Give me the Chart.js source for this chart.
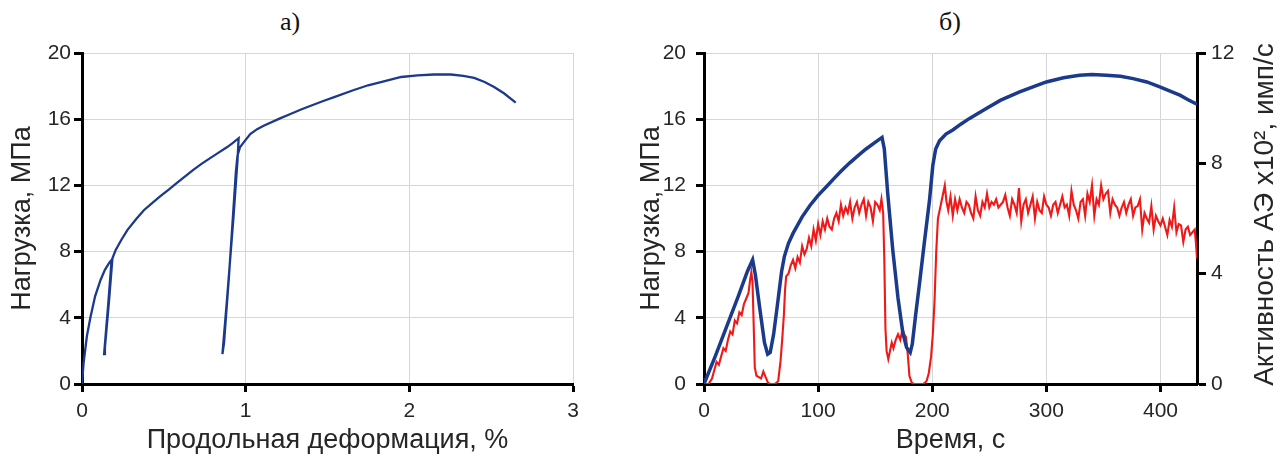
<!DOCTYPE html>
<html>
<head>
<meta charset="utf-8">
<script src="https://cdn.jsdelivr.net/npm/chart.js@4.4.1/dist/chart.umd.min.js"></script>
<style>
  html, body { margin: 0; padding: 0; background: #fff; }
  body { width: 1286px; height: 460px; position: relative; overflow: hidden; }
  .box { position: absolute; top: 0; height: 460px; }
  #boxA { left: 0; width: 600px; }
  #boxB { left: 620px; width: 666px; }
  .panel { position: absolute; top: 7px; font-family: "Liberation Serif", serif; font-size: 26px; color: #111; transform: translateX(-50%); }
</style>
</head>
<body>
<div class="panel" style="left:290px">а)</div>
<div class="panel" style="left:950px">б)</div>
<div class="box" id="boxA"><canvas id="chartA"></canvas></div>
<div class="box" id="boxB"><canvas id="chartB"></canvas></div>
<script>
// а) load vs longitudinal strain
const strainPct = [0, 0.01, 0.03, 0.053, 0.08, 0.114, 0.14, 0.165, 0.181, 0.16,
  0.135, 0.14, 0.165, 0.186, 0.206, 0.24, 0.277, 0.33, 0.378, 0.43,
  0.479, 0.53, 0.58, 0.63, 0.682, 0.73, 0.783, 0.83, 0.885, 0.92,
  0.957, 0.95, 0.925, 0.885, 0.858, 0.868, 0.898, 0.93, 0.94, 0.95,
  0.965, 0.988, 1.028, 1.07, 1.11, 1.21, 1.27, 1.342, 1.474, 1.545,
  1.657, 1.748, 1.85, 1.95, 2.05, 2.15, 2.254, 2.33, 2.396, 2.46,
  2.518, 2.58, 2.65];
const strainLoad = [0, 1.3, 2.9, 4.1, 5.3, 6.3, 6.9, 7.3, 7.5, 4.8,
  1.8, 2.2, 5.0, 7.6, 8.1, 8.7, 9.3, 9.95, 10.5, 10.95,
  11.35, 11.75, 12.15, 12.55, 12.95, 13.3, 13.65, 13.95, 14.3, 14.55,
  14.85, 13.5, 10.0, 5.0, 1.8, 2.5, 6.5, 11.3, 12.8, 13.8,
  14.3, 14.6, 15.1, 15.4, 15.6, 16.05, 16.3, 16.6, 17.1, 17.35,
  17.75, 18.05, 18.3, 18.55, 18.65, 18.7, 18.7, 18.62, 18.5, 18.25,
  17.95, 17.55, 17.0];

// б) load vs time
const timeSec = [0, 10, 20, 30, 38, 42.6, 45, 49, 53, 55.8,
  58, 61, 64, 66, 68, 70.4, 74, 78, 86, 93,
  100, 107, 113, 120, 127.5, 135, 142, 149, 153, 156,
  158, 161, 165.4, 170, 174.2, 177.5, 180.7, 182.5, 185.5, 188.9,
  193, 197.6, 200.5, 203, 206.4, 212, 218, 225, 232.7, 240,
  247.4, 260, 276.6, 290, 300, 315, 329, 340, 352.6, 365,
  376, 388, 399.4, 410, 417, 425, 432];
const timeLoad = [0, 1.7, 3.5, 5.3, 6.8, 7.5, 6.6, 4.5, 2.5, 1.8,
  1.9, 3.0, 4.6, 5.7, 6.8, 7.7, 8.5, 9.1, 10.1, 10.8,
  11.4, 11.9, 12.35, 12.85, 13.35, 13.8, 14.2, 14.55, 14.75, 14.9,
  14.2, 11.5, 8.1, 5.2, 3.1, 2.2, 1.9, 2.4, 4.2, 6.1,
  8.5, 11.1, 13.2, 14.2, 14.7, 15.1, 15.35, 15.7, 16.05, 16.35,
  16.65, 17.15, 17.65, 18.0, 18.25, 18.5, 18.65, 18.7, 18.65, 18.6,
  18.45, 18.25, 17.95, 17.65, 17.45, 17.15, 16.9];
const timeTicks = [0, 100, 200, 300, 400];

// б) acoustic emission activity (x10^2 imp/s) vs time
const aeTime = [0, 4, 7, 9, 11, 13, 15, 17, 19, 21,
  23, 25, 27, 29, 31, 33, 35, 37, 39, 40.5,
  41.5, 42.5, 43.5, 44.5, 46, 48, 50, 52, 54, 56,
  58, 62, 65, 67, 68.5, 70, 71, 72,
  74, 76, 78, 80, 82, 84, 86, 88, 90, 92,
  94, 96, 98, 100, 102, 104, 106, 108, 110, 112,
  114, 116, 118, 120, 122, 124, 126, 128, 130, 132,
  134, 136, 138, 140, 142, 144, 146, 148, 150, 152,
  154, 155.5, 157,
  158, 159, 160, 161.5, 163, 164.5, 166, 168, 170, 172,
  174, 175.5, 177, 178.5, 180, 182, 184, 192, 195, 197,
  199, 200.5, 202, 203.5, 205, 207, 209, 211, 212.5,
  214, 216, 218, 220, 222, 224, 226, 228, 230, 232,
  234, 236, 238, 240, 242, 244, 246, 248, 250, 252,
  254, 256, 258, 260, 262, 264, 266, 268, 270, 272,
  274, 276, 278, 280, 282, 284, 286, 288, 290, 292,
  294, 296, 298, 300, 302, 304, 306, 308, 310, 312,
  314, 316, 318, 320, 322, 324, 326, 328, 330, 332,
  334, 336, 338, 340, 342, 344, 346, 348, 350, 352,
  354, 356, 358, 360, 362, 364, 366, 368, 370, 372,
  374, 376, 378, 380, 382, 384, 386, 388, 390, 392,
  394, 396, 398, 400, 402, 404, 406, 408, 410, 412,
  414, 416, 418, 420, 422, 424, 426, 428, 430, 431,
  432];
const aeRate = [0, 0, 0.2, 0.5, 0.8, 0.7, 1.0, 1.3, 1.2, 1.6,
  1.9, 1.8, 2.3, 2.2, 2.6, 2.5, 2.9, 3.1, 3.3, 3.8,
  4.05, 3.7, 2.2, 0.6, 0.3, 0.25, 0.2, 0.45, 0.25, 0.05,
  0, 0, 0.1, 0.8, 1.6, 2.5, 3.4, 3.9,
  4.0, 4.3, 4.5, 4.2, 4.6, 4.4, 5.0, 4.7, 4.9, 5.3,
  5.0, 5.6, 5.2, 5.8, 5.4, 5.9, 5.6, 6.0, 5.7, 5.6,
  6.0, 6.2, 5.9, 6.5, 6.1, 6.4, 6.2, 6.6, 6.0, 6.4,
  6.6, 6.2, 6.5, 6.7, 6.1, 6.6, 6.4, 5.9, 6.6, 6.5,
  6.3, 6.7, 6.2,
  4.5, 2.0, 1.2, 0.9, 1.2, 1.5, 1.3, 1.6, 1.8, 1.6,
  2.0, 1.8, 1.7, 1.1, 0.3, 0.05, 0, 0, 0.1, 0.4,
  1.0, 1.8, 3.0, 4.8, 6.0, 6.4, 6.8, 7.2, 6.6,
  6.3, 6.8, 6.1, 6.7, 6.3, 6.7, 6.4, 6.2, 6.6, 6.5,
  6.2, 6.0, 6.8, 6.3, 6.1, 6.6, 6.4, 6.9, 6.4, 6.6,
  6.5, 6.7, 6.4, 6.5, 6.6, 6.85, 6.4, 6.1, 6.7, 6.5,
  6.2, 7.1, 5.9, 6.5, 6.7, 6.2, 6.5, 6.8, 6.0, 6.6,
  6.3, 6.2, 6.8, 6.5, 6.4, 6.1, 6.5, 6.6, 6.2, 6.5,
  6.8, 6.4, 6.5, 6.1, 7.0, 6.5, 6.3, 6.0, 6.6, 6.7,
  6.1, 6.9, 6.6, 7.2, 6.1, 6.7, 6.5, 7.2, 6.7, 6.9,
  7.0, 6.2, 6.7, 6.5, 6.4, 6.1, 6.4, 6.6, 6.2, 6.5,
  6.7, 6.1, 6.4, 6.45, 6.7, 5.6, 6.2, 6.0, 5.85, 6.45,
  5.6, 6.1, 5.9, 5.75, 6.0, 5.7, 5.4, 5.95, 5.7, 6.4,
  5.5, 5.8, 5.75, 5.15, 5.6, 5.7, 5.4, 5.5, 5.6, 5.15,
  4.55];

const strainTitle = 'Продольная деформация, %';
const loadTitle = 'Нагрузка, МПа';
const timeTitle = 'Время, с';
const rateTitle = 'Активность АЭ х10², имп/с';

const ink = '#262626';
const sans = "'Liberation Sans', Arial, sans-serif";
const tickFont = { family: sans, size: 21 };
const titleFont = { family: sans, size: 27 };
const gridColor = '#d6d6d6';

function toPoints(xs, ys) {
  return xs.map((x, i) => ({ x: x, y: ys[i] }));
}

function axis(min, max, step, extra) {
  return Object.assign({
    type: 'linear', min: min, max: max,
    ticks: { stepSize: step, color: ink, font: tickFont, maxRotation: 0 },
    grid: { color: gridColor, lineWidth: 1, tickColor: '#000', tickLength: 8, tickWidth: 3 },
    border: { color: '#000', width: 3 }
  }, extra);
}

const baseOptions = {
  responsive: true,
  maintainAspectRatio: false,
  animation: false,
  events: [],
  plugins: { legend: { display: false }, tooltip: { enabled: false } }
};

// а)
const strainAxis = axis(0, 3, 1, {
  title: { display: true, text: strainTitle, color: ink, font: titleFont, padding: { top: 0, bottom: 3 } },
  afterFit: s => { s.height = 76; }
});
strainAxis.ticks.padding = 7;

new Chart(document.getElementById('chartA'), {
  type: 'scatter',
  data: {
    datasets: [{
      data: toPoints(strainPct, strainLoad),
      showLine: true, pointRadius: 0,
      borderColor: '#1b3a8c', borderWidth: 2.3
    }]
  },
  options: Object.assign({}, baseOptions, {
    layout: { padding: { top: 53, right: 27, left: 0, bottom: 0 } },
    scales: {
      x: strainAxis,
      y: axis(0, 20, 4, {
        title: { display: true, text: loadTitle, color: ink, font: titleFont, padding: { top: 6, bottom: 0 } },
        afterFit: s => { s.width = 82; }
      })
    }
  })
});

// б)
const rightTitlePlugin = {
  id: 'rightTitle',
  afterDraw(chart) {
    const ctx = chart.ctx;
    const a = chart.chartArea;
    ctx.save();
    ctx.translate(chart.scales.y2.right - 21, (a.top + a.bottom) / 2 - 4);
    ctx.rotate(-Math.PI / 2);
    ctx.font = '28px ' + sans;
    ctx.fillStyle = ink;
    ctx.textAlign = 'center';
    ctx.textBaseline = 'middle';
    ctx.fillText(rateTitle, 0, 0);
    ctx.restore();
  }
};

const rightY = axis(0, 20, 4, {
  title: { display: true, text: loadTitle, color: ink, font: titleFont, padding: { top: 15, bottom: 0 } },
  afterFit: s => { s.width = 84; }
});
rightY.ticks.padding = 10;

const rateAxis = axis(0, 12, 4, {
  position: 'right',
  afterFit: s => { s.width = 89; }
});
rateAxis.grid.drawOnChartArea = false;
rateAxis.grid.tickLength = 9;
rateAxis.ticks.padding = 5;

const timeAxis = axis(0, 432, 100, {
  title: { display: true, text: timeTitle, color: ink, font: titleFont, padding: { top: 0, bottom: 3 } },
  afterBuildTicks: s => { s.ticks = timeTicks.map(v => ({ value: v })); },
  afterFit: s => { s.height = 76; }
});
timeAxis.ticks.padding = 7;

new Chart(document.getElementById('chartB'), {
  type: 'scatter',
  data: {
    datasets: [{
      data: toPoints(timeSec, timeLoad),
      showLine: true, pointRadius: 0,
      borderColor: '#1b3a8c', borderWidth: 3.5,
      yAxisID: 'y'
    }, {
      data: toPoints(aeTime, aeRate),
      showLine: true, pointRadius: 0,
      borderColor: '#f01818', borderWidth: 2.1,
      yAxisID: 'y2'
    }]
  },
  options: Object.assign({}, baseOptions, {
    layout: { padding: { top: 53, right: 0, left: 0, bottom: 0 } },
    scales: {
      x: timeAxis,
      y: rightY,
      y2: rateAxis
    }
  }),
  plugins: [rightTitlePlugin]
});
</script>
</body>
</html>
